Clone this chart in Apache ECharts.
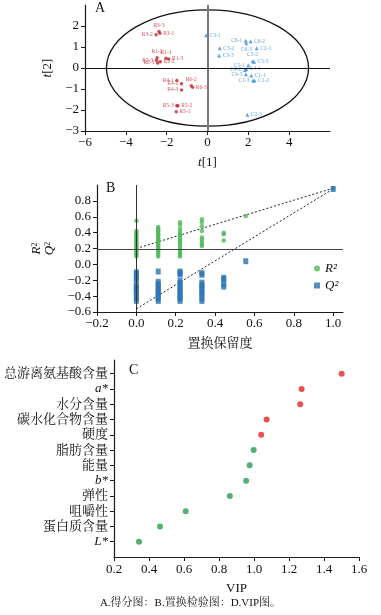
<!DOCTYPE html>
<html><head><meta charset="utf-8">
<script src="https://cdn.jsdelivr.net/npm/echarts@6/dist/echarts.min.js"></script>
<style>html,body{margin:0;padding:0;background:#fff}#c{width:381px;height:615px}</style>
</head><body><div id="c"></div>
<script>
// ---------- Panel A: score plot ----------
const redNames = ['R3-3','R3-2','R3-1','R1-2','R1-1','R2-3','R1-3','R2-2','R2-1','R4-1','R4-2','R4-3','R6-2','R6-3','R5-3','R5-2','R5-1'];
const redX = [-2.38,-2.52,-2.33,-2.47,-2.03,-2.50,-1.90,-2.31,-2.44,-1.50,-1.27,-1.27,-0.80,-0.73,-1.50,-1.45,-1.53];
const redY = [1.74,1.58,1.65,0.49,0.46,0.37,0.43,0.30,0.24,-0.59,-0.75,-1.05,-0.84,-0.92,-1.80,-1.80,-2.08];
const blueNames = ['C3-1','C6-1','C6-2','C6-3','C3-2','C2-1','C3-3','C5-2','C5-3','C5-1','C4-2','C4-1','C4-3','C1-1','C1-3','C1-2','C2-3'];
const blueX = [-0.07,1.87,2.11,1.90,0.60,2.41,0.57,2.21,2.28,2.00,1.83,1.90,1.88,2.14,2.23,2.30,1.95];
const blueY = [1.56,1.30,1.27,1.18,0.94,0.94,0.59,0.32,0.30,0.13,-0.09,-0.05,-0.30,-0.36,-0.60,-0.60,-2.23];
const ellipseParams = [0, 0, 4.95, 2.77]; // centre x, centre y, radius x, radius y (T2 ellipse)

// ---------- Panel B: permutation test ----------
const permX = [0, 0.111, 0.222, 0.333, 0.444, 0.556, 1.0];
const r2Vals = [
  [0.10,0.12,0.14,0.16,0.18,0.20,0.22,0.24,0.26,0.28,0.30,0.32,0.34,0.36,0.38,0.40,0.42,0.55],
  [0.10,0.12,0.15,0.17,0.19,0.21,0.23,0.25,0.27,0.29,0.31,0.33,0.35,0.37,0.39,0.41,0.43,0.45,0.47],
  [0.10,0.12,0.14,0.17,0.19,0.22,0.25,0.28,0.30,0.33,0.36,0.38,0.41,0.45,0.50,0.53],
  [0.23,0.25,0.28,0.31,0.34,0.42,0.48,0.53,0.57],
  [0.30,0.38,0.40],
  [0.61],
  [0.96]
];
const q2Vals = [
  [-0.10,-0.12,-0.17,-0.19,-0.26,-0.28,-0.31,-0.33,-0.36,-0.40,-0.43,-0.46],
  [-0.09,-0.22,-0.25,-0.28,-0.31,-0.34,-0.37,-0.40,-0.43,-0.46],
  [-0.09,-0.11,-0.13,-0.21,-0.24,-0.28,-0.31,-0.34,-0.37,-0.40,-0.43,-0.46],
  [-0.11,-0.13,-0.23,-0.26,-0.29,-0.32,-0.36,-0.38,-0.43,-0.46],
  [-0.17,-0.19,-0.25,-0.28],
  [0.04],
  [0.95]
];
const r2Line = [[0, 0.20], [1, 0.96]];
const q2Line = [[0, -0.56], [1, 0.95]];
const bRefY = 0.19;

// ---------- Panel C: VIP ----------
const vipCats = ['L*','蛋白质含量','咀嚼性','弹性','b*','能量','脂肪含量','硬度','碳水化合物含量','水分含量','a*','总游离氨基酸含量'];
const vipVals = [0.343,0.463,0.610,0.862,0.955,0.975,0.998,1.041,1.072,1.264,1.272,1.501];

// ---------- styles ----------
const SERIF = "'Liberation Serif','Times New Roman','Noto Serif CJK SC','Noto Sans CJK SC',serif";
const RED_A = '#c4262f', BLUE_A = '#3b8fd4';
const GREEN_B = '#4db859', BLUE_B = '#2a73b3';
const RED_C = '#e5232c', GREEN_C = '#2a9a50';
const AX = '#1a1a1a';
const labelSideRed = {'R3-3':'top','R3-2':'left','R3-1':'right','R1-2':'top','R1-1':'top','R2-3':'left','R1-3':'right','R2-2':'right','R2-1':'left','R4-1':'left','R4-2':'left','R4-3':'left','R6-2':'top','R6-3':'right','R5-3':'left','R5-2':'right','R5-1':'right'};
const labelSideBlue = {'C6-1':'left','C6-3':'bottom','C5-2':'top','C5-1':'left','C4-2':'left','C4-3':'left','C1-3':'left'};

const minus = s => s.replace('-', '\u2212');
const fmtInt = v => minus(String(v));
const fmt1 = v => minus(v.toFixed(1));

function baseAxis(extra) {
  return Object.assign({
    axisLine: {show: true, onZero: false, lineStyle: {color: AX, width: 1.2}},
    axisTick: {show: true, length: 4, lineStyle: {color: AX}},
    splitLine: {show: false},
    axisLabel: {color: '#111', fontFamily: SERIF, fontSize: 13, margin: 5},
    nameTextStyle: {color: '#111', fontFamily: SERIF, fontSize: 13}
  }, extra);
}

const chart = echarts.init(document.getElementById('c'), null, {renderer: 'canvas'});

const redData = redNames.map((n, i) => ({value: [redX[i], redY[i]], name: n, label: {position: labelSideRed[n] || 'right'}}));
const blueData = blueNames.map((n, i) => ({value: [blueX[i], blueY[i]], name: n, label: {position: labelSideBlue[n] || 'right'}}));

const r2Data = [], q2Data = [];
permX.forEach((x, i) => { r2Vals[i].forEach(v => r2Data.push([x, v])); q2Vals[i].forEach(v => q2Data.push([x, v])); });

const G = {containLabel: false, outerBoundsMode: 'none'};
const option = {
  animation: false,
  backgroundColor: '#fff',
  textStyle: {fontFamily: SERIF},
  grid: [
    Object.assign({left: 85, top: 5, width: 245, height: 126}, G),
    Object.assign({left: 97, top: 185, width: 246, height: 127}, G),
    Object.assign({left: 114, top: 360, width: 245, height: 197}, G)
  ],
  xAxis: [
    baseAxis({gridIndex: 0, type: 'value', min: -6, max: 6, interval: 2,
      axisLabel: {color: '#111', fontFamily: SERIF, fontSize: 13, margin: 5, showMaxLabel: false, formatter: fmtInt},
      name: '{i|t}[1]', nameLocation: 'middle', nameGap: 25,
      nameTextStyle: {color: '#111', fontFamily: SERIF, fontSize: 13, rich: {i: {fontStyle: 'italic', fontFamily: SERIF, fontSize: 13}}}}),
    baseAxis({gridIndex: 1, type: 'value', min: -0.2, max: 1.05, interval: 0.2,
      axisLabel: {color: '#111', fontFamily: SERIF, fontSize: 13, margin: 5, showMaxLabel: false, formatter: fmt1},
      name: '置换保留度', nameLocation: 'middle', nameGap: 25}),
    baseAxis({gridIndex: 2, type: 'value', min: 0.2, max: 1.6, interval: 0.2,
      axisLabel: {color: '#111', fontFamily: SERIF, fontSize: 13, margin: 6, formatter: fmt1},
      name: 'VIP', nameLocation: 'middle', nameGap: 25})
  ],
  yAxis: [
    baseAxis({gridIndex: 0, type: 'value', min: -3, max: 3, interval: 1,
      axisLabel: {color: '#111', fontFamily: SERIF, fontSize: 13, margin: 6, showMaxLabel: false, formatter: fmtInt},
      name: '{i|t}[2]', nameLocation: 'middle', nameGap: 30, nameRotate: 90,
      nameTextStyle: {color: '#111', fontFamily: SERIF, fontSize: 13, rich: {i: {fontStyle: 'italic', fontFamily: SERIF, fontSize: 13}}}}),
    baseAxis({gridIndex: 1, type: 'value', min: -0.6, max: 1.0, interval: 0.2,
      axisLabel: {color: '#111', fontFamily: SERIF, fontSize: 13, margin: 6, showMaxLabel: false, formatter: fmt1},
      name: '{i|R}{s|2}\n{i|Q}{s|2}', nameLocation: 'middle', nameGap: 40, nameRotate: 90,
      nameTextStyle: {color: '#111', fontFamily: SERIF, fontSize: 13, lineHeight: 13,
        rich: {i: {fontStyle: 'italic', fontFamily: SERIF, fontSize: 13, lineHeight: 13}, s: {fontFamily: SERIF, fontSize: 8, verticalAlign: 'top', lineHeight: 13}}}}),
    baseAxis({gridIndex: 2, type: 'value', min: 0, max: 12.9,
      axisTick: {show: true, length: 4, lineStyle: {color: AX}, customValues: vipCats.map((c, i) => i + 1)},
      axisLabel: {color: '#111', fontFamily: SERIF, fontSize: 13, margin: 6,
        customValues: vipCats.map((c, i) => i + 1),
        formatter: v => { const c = vipCats[Math.round(v) - 1] || ''; return c.indexOf('*') >= 0 ? '{i|' + c + '}' : c; },
        rich: {i: {fontStyle: 'italic', fontFamily: SERIF, fontSize: 13}}},
      name: '指标', nameLocation: 'middle', nameGap: 99, nameRotate: 90})
  ],
  legend: {
    data: [{name: 'R²', icon: 'circle'}, {name: 'Q²', icon: 'rect'}],
    orient: 'vertical', left: 309, top: 257, itemWidth: 6, itemHeight: 6, itemGap: 4,
    textStyle: {fontFamily: SERIF, fontSize: 13, fontStyle: 'italic', color: '#111'},
    selectedMode: false
  },
  series: [
    // Panel A
    {type: 'custom', xAxisIndex: 0, yAxisIndex: 0, data: [ellipseParams], silent: true, z: 1,
      renderItem: (params, api) => {
        const c = api.coord([api.value(0), api.value(1)]);
        const s = api.size([api.value(2), api.value(3)]);
        return {type: 'ellipse', shape: {cx: c[0], cy: c[1], rx: s[0], ry: s[1]}, style: {fill: 'none', stroke: '#111', lineWidth: 1.3}};
      }},
    {type: 'scatter', xAxisIndex: 0, yAxisIndex: 0, data: [], silent: true, z: 1,
      markLine: {silent: true, symbol: 'none', label: {show: false},
        data: [{xAxis: 0, lineStyle: {color: '#7a7a7a', width: 2, type: 'solid'}}, {yAxis: 0, lineStyle: {color: '#111', width: 1.2, type: 'solid'}}]}},
    {type: 'scatter', name: 'R', xAxisIndex: 0, yAxisIndex: 0, data: redData, symbol: 'circle', symbolSize: 3.5,
      itemStyle: {color: RED_A}, z: 3,
      label: {show: true, formatter: p => p.name, fontSize: 5.5, color: RED_A, distance: 1.5, fontFamily: SERIF}},
    {type: 'scatter', name: 'C', xAxisIndex: 0, yAxisIndex: 0, data: blueData, symbol: 'triangle', symbolSize: 4,
      itemStyle: {color: BLUE_A}, z: 3,
      label: {show: true, formatter: p => p.name, fontSize: 5.5, color: BLUE_A, distance: 1.5, fontFamily: SERIF}},
    // Panel B
    {type: 'scatter', xAxisIndex: 1, yAxisIndex: 1, data: [], silent: true, z: 1,
      markLine: {silent: true, symbol: 'none', label: {show: false},
        data: [{xAxis: 0, lineStyle: {color: '#333', width: 1, type: 'solid'}}, {yAxis: bRefY, lineStyle: {color: '#444', width: 1.2, type: 'solid'}}]}},
    {type: 'line', xAxisIndex: 1, yAxisIndex: 1, data: r2Line, symbol: 'none', silent: true, z: 2,
      lineStyle: {color: '#222', width: 1, type: [2, 2]}},
    {type: 'line', xAxisIndex: 1, yAxisIndex: 1, data: q2Line, symbol: 'none', silent: true, z: 2,
      lineStyle: {color: '#222', width: 1, type: [2, 2]}},
    {type: 'scatter', name: 'R²', xAxisIndex: 1, yAxisIndex: 1, data: r2Data, symbol: 'circle', symbolSize: 4.5,
      itemStyle: {color: GREEN_B}, z: 3},
    {type: 'scatter', name: 'Q²', xAxisIndex: 1, yAxisIndex: 1, data: q2Data, symbol: 'rect', symbolSize: [5, 6],
      itemStyle: {color: BLUE_B}, z: 3},
    // Panel C
    {type: 'scatter', xAxisIndex: 2, yAxisIndex: 2, symbol: 'circle', symbolSize: 6, z: 3,
      data: vipVals.map((v, i) => ({value: [v, i + 1], itemStyle: {color: v > 1 ? RED_C : GREEN_C}}))}
  ],
  graphic: [
    {type: 'text', left: 95, top: 1, style: {text: 'A', font: '14px ' + SERIF, fill: '#111'}},
    {type: 'text', left: 106, top: 181, style: {text: 'B', font: '14px ' + SERIF, fill: '#111'}},
    {type: 'text', left: 129, top: 363, style: {text: 'C', font: '14px ' + SERIF, fill: '#111'}},
    {type: 'text', left: 'center', top: 598, style: {text: 'A.得分图：B.置换检验图：D.VIP图。', font: '11px ' + SERIF, fill: '#111'}}
  ]
};
chart.setOption(option);
</script>
</body></html>
